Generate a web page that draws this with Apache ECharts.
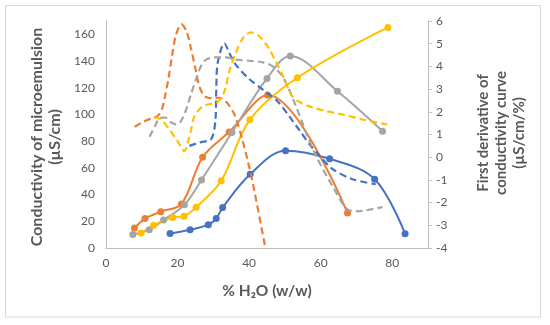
<!DOCTYPE html>
<html>
<head>
<meta charset="utf-8">
<script src="https://cdn.jsdelivr.net/npm/echarts@6/dist/echarts.min.js"></script>
<style>html,body{margin:0;padding:0;background:#fff}#c{width:550px;height:325px}</style>
</head>
<body>
<div id="c"></div>
<script>
// ---- Conductivity (left axis), solid lines with markers ----
const blueX   = [17.9, 23.5, 28.6, 30.8, 32.6, 40.3, 50.2, 62.5, 75.1, 83.6];
const blueY   = [10.8, 13.6, 17.5, 22.0, 30.3, 55.2, 72.9, 66.8, 51.5, 10.7];
const orangeX = [7.95, 10.9, 15.3, 21.1, 27.0, 34.4, 45.2, 67.5];
const orangeY = [14.9, 22.0, 27.2, 33.0, 68.0, 86.8, 114.5, 26.2];
const grayX   = [7.5, 12.1, 16.1, 21.9, 26.7, 35.2, 45.0, 51.5, 64.7, 77.3];
const grayY   = [10.2, 13.7, 21.0, 32.3, 51.0, 86.5, 127.0, 143.8, 117.4, 87.5];
const yellowX = [9.8, 13.3, 18.6, 21.8, 25.2, 32.2, 40.2, 53.5, 78.8];
const yellowY = [11.2, 17.0, 22.8, 23.8, 30.5, 50.3, 96.0, 127.5, 165.2];

// ---- First derivative (right axis), dashed smooth lines ----
const blueDX   = [23.3, 26.2, 29.4, 30.6, 30.8, 31.2, 33.1, 34.5, 36.3, 40.0, 44.0, 48.0, 51.0, 54.0, 57.0, 60.0, 63.3, 68.9, 75.4];
const blueDY   = [0.5, 0.65, 0.8, 1.66, 2.83, 4.14, 5.02, 4.58, 4.07, 3.45, 2.95, 2.45, 1.85, 1.2, 0.55, 0.0, -0.52, -0.97, -1.19];
const orangeDX = [8.0, 10.3, 12.5, 14.3, 15.6, 16.5, 17.5, 18.5, 19.6, 21.1, 22.5, 23.6, 25.0, 26.1, 27.5, 29.5, 31.5, 33.5, 35.9, 38.2, 39.6, 41.0, 44.5, 46.0];
const orangeDY = [1.34, 1.55, 1.7, 1.8, 2.1, 2.7, 3.5, 4.5, 5.4, 5.85, 5.55, 4.9, 3.9, 3.12, 2.7, 2.6, 2.62, 2.45, 1.88, 0.72, -0.15, -1.12, -3.96, -5.2];
const grayDX   = [12.2, 13.6, 15.0, 16.5, 18.0, 19.6, 21.0, 22.4, 23.8, 25.2, 26.5, 28.0, 30.8, 33.5, 36.3, 40.0, 43.8, 46.6, 49.3, 51.2, 53.1, 54.9, 56.3, 58.7, 63.3, 67.5, 70.5, 74.0, 77.3];
const grayDY   = [0.9, 1.35, 1.72, 1.75, 1.55, 1.45, 1.6, 2.1, 2.8, 3.45, 4.0, 4.3, 4.4, 4.4, 4.3, 4.25, 4.18, 4.0, 3.56, 2.97, 2.24, 1.51, 0.93, 0.05, -1.27, -2.3, -2.38, -2.3, -2.2];
const yellowDX = [13.5, 15.4, 17.7, 20.0, 21.9, 23.1, 23.8, 24.7, 27.0, 29.5, 31.2, 33.1, 34.5, 36.3, 38.3, 40.5, 42.7, 45.2, 47.5, 49.3, 51.0, 52.2, 54.5, 56.8, 61.0, 66.1, 72.0, 78.6];
const yellowDY = [1.75, 1.66, 1.22, 0.71, 0.27, 0.78, 1.22, 1.8, 2.24, 2.35, 2.42, 2.9, 3.8, 4.6, 5.25, 5.5, 5.35, 4.87, 4.2, 3.63, 3.0, 2.65, 2.4, 2.24, 2.05, 1.88, 1.65, 1.44];

// ---- Axis ranges / labels ----
const xRange = [0, 90, 20];
const leftRange = [0, 170, 20];
const rightRange = [-4, 6, 1];
const xTitle = '% H\u2082O (w/w)';
const leftTitle = ['Conductivity of microemulsion', '(\u00B5S/cm)'];
const rightTitle = ['First derivative of', 'conductivity curve', '(\u00B5S/cm/%)'];

const C = { blue: '#4472C4', orange: '#ED7D31', gray: '#A5A5A5', yellow: '#FFC000' };
const zip = (xs, ys) => xs.map((x, i) => [x, ys[i]]);
const FONT = 'Lato, "Open Sans", sans-serif';
const TXT = '#595959';

function solid(name, xs, ys, color) {
  return { name, type: 'line', xAxisIndex: 0, yAxisIndex: 0, data: zip(xs, ys), smooth: 0.35,
    symbol: 'circle', symbolSize: 7, itemStyle: { color }, lineStyle: { color, width: 2 }, z: 3 };
}
function dashed(name, xs, ys, color) {
  return { name, type: 'line', xAxisIndex: 0, yAxisIndex: 1, data: zip(xs, ys), smooth: 0.3,
    showSymbol: false, symbol: 'none', lineStyle: { color, width: 2.2, type: [7, 4] }, clip: true, z: 4 };
}

const chart = echarts.init(document.getElementById('c'), null, { renderer: 'canvas' });
chart.setOption({
  animation: false,
  backgroundColor: '#fff',
  grid: { left: 106, right: 122, top: 21, bottom: 77, containLabel: false, outerBoundsMode: 'none' },
  xAxis: {
    type: 'value', min: xRange[0], max: xRange[1], interval: xRange[2],
    axisLine: { show: true, onZero: false, lineStyle: { color: '#BFBFBF', width: 1 } },
    axisTick: { show: false }, splitLine: { show: false },
    axisLabel: { color: TXT, fontFamily: FONT, fontSize: 12, margin: 9, showMaxLabel: false }
  },
  yAxis: [{
    type: 'value', min: leftRange[0], max: leftRange[1], interval: leftRange[2], position: 'left',
    axisLine: { show: true, lineStyle: { color: '#BFBFBF', width: 1 } },
    axisTick: { show: false }, splitLine: { show: false },
    axisLabel: { color: TXT, fontFamily: FONT, fontSize: 12, margin: 11, showMaxLabel: false }
  }, {
    type: 'value', min: rightRange[0], max: rightRange[1], interval: rightRange[2], position: 'right',
    axisLine: { show: true, lineStyle: { color: '#BFBFBF', width: 1 } },
    axisTick: { show: true, length: 4, lineStyle: { color: '#BFBFBF' } }, splitLine: { show: false },
    axisLabel: { color: TXT, fontFamily: FONT, fontSize: 12, margin: 8 }
  }],
  series: [
    solid('Blue', blueX, blueY, C.blue),
    solid('Orange', orangeX, orangeY, C.orange),
    solid('Gray', grayX, grayY, C.gray),
    solid('Yellow', yellowX, yellowY, C.yellow),
    dashed('Blue d', blueDX, blueDY, C.blue),
    dashed('Orange d', orangeDX, orangeDY, C.orange),
    dashed('Gray d', grayDX, grayDY, C.gray),
    dashed('Yellow d', yellowDX, yellowDY, C.yellow)
  ],
  graphic: [
    { type: 'rect', shape: { x: 5.5, y: 5.5, width: 535, height: 311.5 }, style: { fill: 'none', stroke: '#D9D9D9', lineWidth: 1 }, silent: true, z: -1 },
    { type: 'text', x: 37, y: 137, rotation: Math.PI / 2, style: { text: leftTitle[0], fill: TXT, font: 'bold 16px ' + FONT, textAlign: 'center', textVerticalAlign: 'middle' } },
    { type: 'text', x: 55, y: 137, rotation: Math.PI / 2, style: { text: leftTitle[1], fill: TXT, font: 'bold 16px ' + FONT, textAlign: 'center', textVerticalAlign: 'middle' } },
    { type: 'text', x: 483, y: 133, rotation: Math.PI / 2, style: { text: rightTitle[0], fill: TXT, font: 'bold 15px ' + FONT, textAlign: 'center', textVerticalAlign: 'middle' } },
    { type: 'text', x: 501, y: 133, rotation: Math.PI / 2, style: { text: rightTitle[1], fill: TXT, font: 'bold 15px ' + FONT, textAlign: 'center', textVerticalAlign: 'middle' } },
    { type: 'text', x: 519, y: 133, rotation: Math.PI / 2, style: { text: rightTitle[2], fill: TXT, font: 'bold 15px ' + FONT, textAlign: 'center', textVerticalAlign: 'middle' } },
    { type: 'text', x: 267, y: 291, style: { text: xTitle, fill: TXT, font: 'bold 15.5px ' + FONT, textAlign: 'center', textVerticalAlign: 'middle' } }
  ]
});
</script>
</body>
</html>
